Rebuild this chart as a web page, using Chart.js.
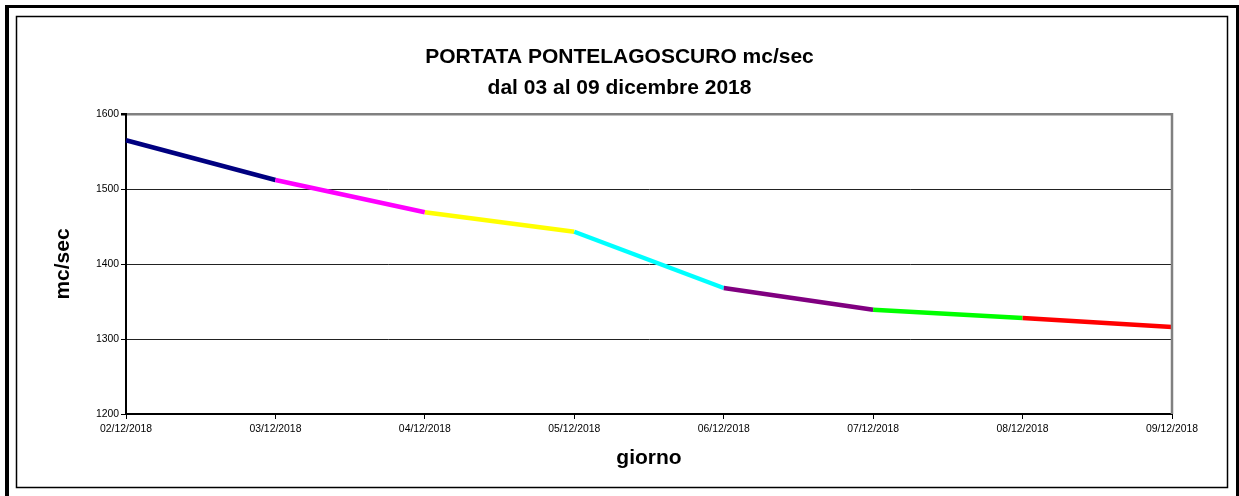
<!DOCTYPE html>
<html>
<head>
<meta charset="utf-8">
<script src="https://cdn.jsdelivr.net/npm/chart.js@4"></script>
<style>
  html, body { margin: 0; padding: 0; background: #fff; }
  #wrap { width: 1239px; height: 496px; position: relative; }
</style>
</head>
<body>
<div id="wrap"><canvas id="portata" width="1239" height="496"></canvas></div>
<script>
// data
const days = ['02/12/2018', '03/12/2018', '04/12/2018', '05/12/2018', '06/12/2018', '07/12/2018', '08/12/2018', '09/12/2018'];
const portata = [1565, 1512, 1469, 1443, 1368, 1339, 1328, 1316];
const segmentColors = ['#000080', '#FF00FF', '#FFFF00', '#00FFFF', '#800080', '#00FF00', '#FF0000'];
const yTicks = [1200, 1300, 1400, 1500, 1600];
const titleLines = ['PORTATA PONTELAGOSCURO mc/sec', 'dal 03 al 09 dicembre 2018'];

const FONT = 'Liberation Sans, Arial, Helvetica, sans-serif';

// frames round the whole picture, and the gray right edge of the plot
const framePlugin = {
    id: 'frames',
    beforeDraw(chart) {
        const ctx = chart.ctx;
        ctx.save();
        ctx.fillStyle = '#fff';
        ctx.fillRect(0, 0, chart.width, chart.height);
        ctx.fillStyle = '#000';
        ctx.fillRect(5, 5, 4, chart.height - 5);   // left thick
        ctx.fillRect(5, 5, chart.width - 5, 3);    // top thick
        ctx.fillRect(1236, 5, 3, chart.height - 5); // right thick
        ctx.strokeStyle = '#000';
        ctx.lineWidth = 1.5;
        ctx.strokeRect(16.5, 16.5, 1211, 471);
        ctx.restore();
    },
    afterDatasetsDraw(chart) {
        const a = chart.chartArea;
        const ctx = chart.ctx;
        ctx.save();
        ctx.strokeStyle = '#808080';
        ctx.lineWidth = 2.5;
        ctx.beginPath();
        ctx.moveTo(a.right, a.top - 1);
        ctx.lineTo(a.right, a.bottom);
        ctx.stroke();
        ctx.restore();
    }
};

new Chart(document.getElementById('portata'), {
    type: 'line',
    data: {
        labels: days,
        datasets: [{
            data: portata,
            borderWidth: 4.5,
            pointRadius: 0,
            tension: 0,
            borderColor: segmentColors[0],
            segment: {
                borderColor: c => segmentColors[c.p0DataIndex]
            }
        }]
    },
    plugins: [framePlugin],
    options: {
        responsive: false,
        animation: false,
        layout: { padding: 0 },
        plugins: {
            legend: { display: false },
            tooltip: { enabled: false },
            title: {
                display: true,
                text: titleLines,
                color: '#000',
                font: { family: FONT, size: 21, weight: 'bold', lineHeight: '31px' },
                padding: { top: 42, bottom: 10 }
            }
        },
        scales: {
            x: {
                offset: false,
                afterFit: s => { s.height = 82; },
                grid: { drawOnChartArea: false, drawTicks: true, tickLength: 5, tickColor: '#000', tickWidth: 1 },
                border: { display: true, color: '#000', width: 2 },
                ticks: {
                    color: '#000', maxRotation: 0, autoSkip: false, padding: 4,
                    font: { family: FONT, size: 10.4 }
                },
                title: {
                    display: true, text: 'giorno', color: '#000',
                    font: { family: FONT, size: 21, weight: 'bold' },
                    padding: { top: 0, bottom: 25 }
                }
            },
            y: {
                min: yTicks[0],
                max: yTicks[yTicks.length - 1],
                afterFit: s => { s.width = 126; },
                afterBuildTicks: s => { s.ticks = yTicks.map(v => ({ value: v })); },
                grid: {
                    drawTicks: true, tickLength: 5, tickColor: '#000',
                    color: c => c.tick && c.tick.value === 1600 ? '#808080' : '#222',
                    lineWidth: c => c.tick && c.tick.value === 1600 ? 2.5 : 1
                },
                border: { display: true, color: '#000', width: 2 },
                ticks: {
                    color: '#000', padding: 2,
                    font: { family: FONT, size: 10.4 },
                    callback: v => String(v)
                },
                title: {
                    display: true, text: 'mc/sec', color: '#000',
                    font: { family: FONT, size: 21, weight: 'bold' },
                    padding: { top: 51, bottom: 0 }
                }
            },
            // empty right-hand axis, only to keep the right margin so the title stays centred on the page
            spacer: {
                type: 'linear',
                position: 'right',
                display: true,
                afterFit: s => { s.width = 67; },
                grid: { display: false },
                border: { display: false },
                ticks: { display: false }
            }
        }
    }
});
</script>
</body>
</html>
